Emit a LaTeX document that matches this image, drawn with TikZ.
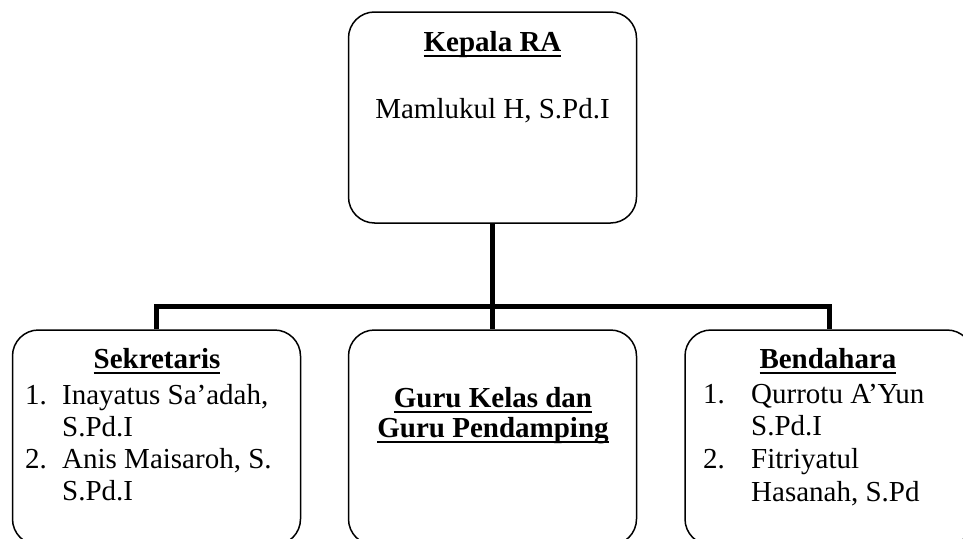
\documentclass[tikz,border=0pt]{standalone}
\usepackage{fontspec}
\setmainfont{Liberation Serif}

\newsavebox{\ulsave}
\newcommand{\ultext}[1]{\sbox{\ulsave}{#1}\rlap{\rule[-6pt]{\wd\ulsave}{1.8pt}}\usebox{\ulsave}}

\begin{document}
\begin{tikzpicture}[
    x=1pt, y=-1pt,
    box/.style={
        draw,
        line width=1.5pt,
        rounded corners=26pt,
        minimum width=288pt,
        inner sep=0pt
    },
    link/.style={
        line width=5pt
    },
    txt/.style={
        anchor=base,
        inner sep=0pt,
        font=\fontsize{29}{32}\selectfont
    }
]

\useasboundingbox (0,0) rectangle (963,538);
\clip (0,0) rectangle (963,538);

% boxes
\node[box, minimum height=211pt] (kepala) at (492.5,117.5) {};
\node[box, minimum height=215pt] (sekretaris) at (156.5,437.5) {};
\node[box, minimum height=215pt] (guru) at (492.5,437.5) {};
\node[box, minimum height=215pt] (bendahara) at (829,437.5) {};

% lines
\coordinate (bar) at (0,306);
\draw[link] (kepala.south) -- (guru.north);
\draw[link] (sekretaris.north) -- (sekretaris.north |- bar) -- (bendahara.north |- bar) -- (bendahara.north);

% kepala
\node[txt] (kepalaT) at (492.5,51) {\bfseries\ultext{Kepala RA}};
\node[txt] (kepalaN) at (492.5,118) {Mamlukul H, S.Pd.I};

% sekretaris
\node[txt] (sekretarisT) at (157,368) {\bfseries\ultext{Sekretaris}};
\node[txt, anchor=base west] (s1) at (25,404) {1.};
\node[txt, anchor=base west] (s1a) at (62,404) {Inayatus Sa’adah,};
\node[txt, anchor=base west] (s1b) at (62,436) {S.Pd.I};
\node[txt, anchor=base west] (s2) at (25,468) {2.};
\node[txt, anchor=base west] (s2a) at (62,468) {Anis Maisaroh, S.};
\node[txt, anchor=base west] (s2b) at (62,500) {S.Pd.I};

% guru
\node[txt] (guruA) at (493,407) {\bfseries\ultext{Guru Kelas dan}};
\node[txt] (guruB) at (493,437) {\bfseries\ultext{Guru Pendamping}};

% bendahara
\node[txt] (bendaharaT) at (828,368) {\bfseries\ultext{Bendahara}};
\node[txt, anchor=base west] (b1) at (703,403) {1.};
\node[txt, anchor=base west] (b1a) at (751,403) {Qurrotu A’Yun};
\node[txt, anchor=base west] (b1b) at (751,435) {S.Pd.I};
\node[txt, anchor=base west] (b2) at (703,468) {2.};
\node[txt, anchor=base west] (b2a) at (751,468) {Fitriyatul};
\node[txt, anchor=base west] (b2b) at (751,501) {Hasanah, S.Pd};

\end{tikzpicture}
\end{document}
